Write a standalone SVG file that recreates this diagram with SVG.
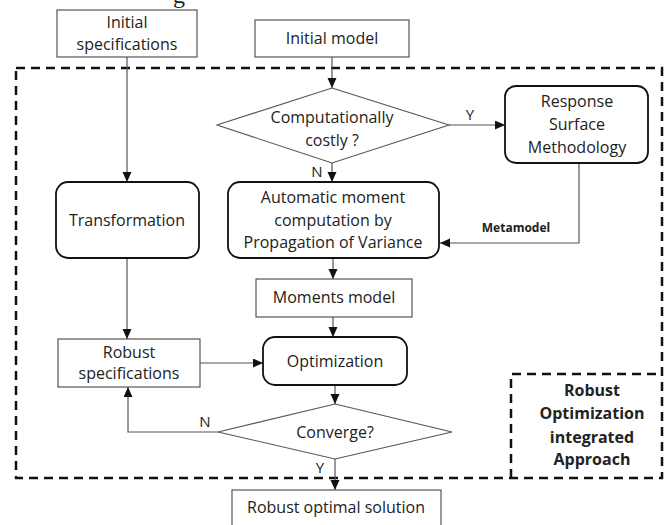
<svg xmlns="http://www.w3.org/2000/svg" width="664" height="525" viewBox="0 0 664 525">
  <style>
    .t { font-family: "Open Sans", "Liberation Sans", sans-serif; font-size: 16px; fill: #222; text-anchor: middle; }
    .b { font-weight: bold; }
    .box { fill: #fff; stroke: #555; stroke-width: 1.2; }
    .rbox { fill: #fff; stroke: #111; stroke-width: 1.8; }
    .dia { fill: #fff; stroke: #555; stroke-width: 1.1; }
    .conn { fill: none; stroke: #555; stroke-width: 1.2; }
    .dash { fill: none; stroke: #111; stroke-width: 2.5; stroke-dasharray: 9 6; }
  </style>
  <defs>
    <marker id="arr" markerUnits="userSpaceOnUse" markerWidth="11" markerHeight="11" refX="10" refY="4.5" orient="auto">
      <path d="M0,0 L10,4.5 L0,9 z" fill="#111"/>
    </marker>
  </defs>
  <rect width="664" height="525" fill="#fff"/>
  <text x="173" y="3" style="font-family:'Liberation Serif',serif;font-size:24px;fill:#222">g</text>

  <g id="frame">
    <rect class="dash" x="16" y="68" width="646" height="410"/>
    <path class="dash" d="M511,478 V374 H662"/>
  </g>

  <g id="connectors">
    <path class="conn" d="M127,57 V182" marker-end="url(#arr)"/>
    <path class="conn" d="M332,57 V88" marker-end="url(#arr)"/>
    <path class="conn" d="M449,125 H505" marker-end="url(#arr)"/>
    <path class="conn" d="M332,163 V182" marker-end="url(#arr)"/>
    <path class="conn" d="M579,163 V243 H440" marker-end="url(#arr)"/>
    <path class="conn" d="M333,258 V279" marker-end="url(#arr)"/>
    <path class="conn" d="M333,317 V337" marker-end="url(#arr)"/>
    <path class="conn" d="M127,258 V339" marker-end="url(#arr)"/>
    <path class="conn" d="M200,363 H263" marker-end="url(#arr)"/>
    <path class="conn" d="M335,385 V404" marker-end="url(#arr)"/>
    <path class="conn" d="M218,432 H128 V387" marker-end="url(#arr)"/>
    <path class="conn" d="M335,459 V490" marker-end="url(#arr)"/>
    <text class="t" x="470" y="120" style="font-size:15px">Y</text>
    <text class="t" x="317" y="177" style="font-size:15px">N</text>
    <text class="t" x="205" y="427" style="font-size:15px">N</text>
    <text class="t" x="320" y="473" style="font-size:15px">Y</text>
    <text class="t b" x="516" y="232" style="font-size:12px">Metamodel</text>
  </g>

  <g id="initial-specifications">
    <rect class="box" x="57" y="10" width="140" height="47"/>
    <text class="t" x="127" y="28">Initial</text>
    <text class="t" x="127" y="50">specifications</text>
  </g>
  <g id="initial-model">
    <rect class="box" x="255" y="20" width="154" height="37"/>
    <text class="t" x="332" y="44">Initial model</text>
  </g>
  <g id="computationally-costly">
    <polygon class="dia" points="332,88 449,125 332,163 217,125"/>
    <text class="t" x="332" y="123">Computationally</text>
    <text class="t" x="332" y="146">costly ?</text>
  </g>
  <g id="rsm">
    <rect class="rbox" x="505" y="86" width="143" height="77" rx="11"/>
    <text class="t" x="577" y="107">Response</text>
    <text class="t" x="577" y="130">Surface</text>
    <text class="t" x="577" y="153">Methodology</text>
  </g>
  <g id="transformation">
    <rect class="rbox" x="56" y="182" width="143" height="76" rx="12"/>
    <text class="t" x="127" y="226">Transformation</text>
  </g>
  <g id="automatic">
    <rect class="rbox" x="228" y="182" width="211" height="76" rx="12"/>
    <text class="t" x="333" y="203">Automatic moment</text>
    <text class="t" x="333" y="226">computation by</text>
    <text class="t" x="333" y="248">Propagation of Variance</text>
  </g>
  <g id="moments-model">
    <rect class="box" x="256" y="279" width="156" height="38"/>
    <text class="t" x="334" y="303">Moments model</text>
  </g>
  <g id="optimization">
    <rect class="rbox" x="263" y="337" width="144" height="48" rx="12"/>
    <text class="t" x="335" y="367">Optimization</text>
  </g>
  <g id="robust-specifications">
    <rect class="box" x="58" y="339" width="142" height="48"/>
    <text class="t" x="129" y="358">Robust</text>
    <text class="t" x="129" y="379">specifications</text>
  </g>
  <g id="converge">
    <polygon class="dia" points="335,404 452,432 335,459 218,432"/>
    <text class="t" x="335" y="438">Converge?</text>
  </g>
  <g id="robust-optimal-solution">
    <rect class="box" x="232" y="490" width="209" height="45"/>
    <text class="t" x="336" y="513">Robust optimal solution</text>
  </g>
  <g id="approach-label">
    <text class="t b" x="592" y="396">Robust</text>
    <text class="t b" x="592" y="419">Optimization</text>
    <text class="t b" x="592" y="443">integrated</text>
    <text class="t b" x="592" y="465">Approach</text>
  </g>
</svg>
